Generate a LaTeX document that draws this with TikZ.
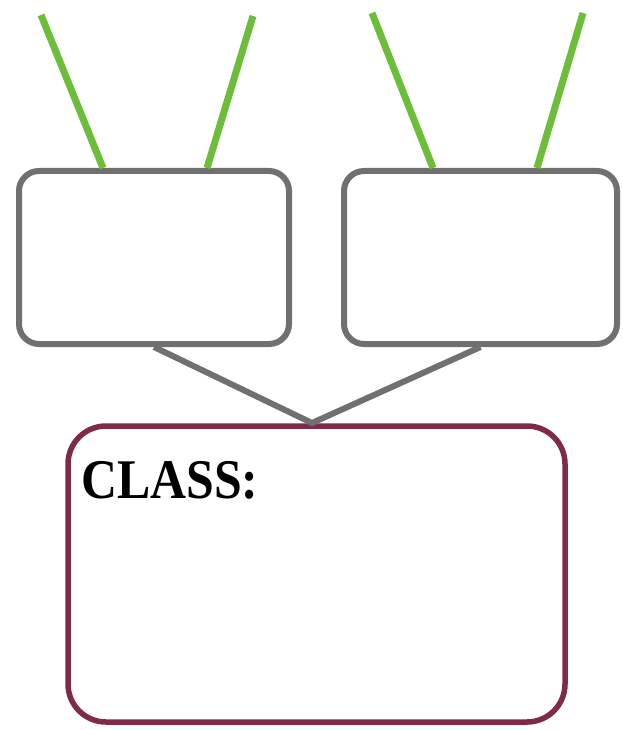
\documentclass[tikz,border=0pt]{standalone}
\usepackage{graphicx}
\usepackage{fontspec}
\setmainfont{Liberation Serif}
\usetikzlibrary{positioning,shapes,arrows}

\definecolor{boxgray}{RGB}{112,112,112}
\definecolor{leafgreen}{RGB}{108,190,58}
\definecolor{classred}{RGB}{128,42,72}

\begin{document}
\begin{tikzpicture}[x=1pt,y=-1pt]
          %% ARBRE DE CLASSE
          \useasboundingbox (0,0) rectangle (623,730);

          \tikzstyle{panel}=[draw=boxgray,line width=6pt,rounded corners=20pt,minimum width=270pt,minimum height=173pt,inner sep=0pt]
          \tikzstyle{classbox}=[draw=classred,line width=5.5pt,rounded corners=38pt,minimum width=497pt,minimum height=296pt,inner sep=0pt]
          \tikzstyle{antenna}=[draw=leafgreen,line width=7pt]
          \tikzstyle{link}=[draw=boxgray,line width=6pt,line join=miter]

          % les deux boites du haut
          \node[panel] (B1) at (154,257.5) {};
          \node[panel,minimum width=273pt] (B2) at (480.5,257.5) {};

          % la boite de la classe
          \node[classbox] (C) at (316.5,574) {};
          \node[anchor=base west,font=\bfseries\fontsize{56}{60}\selectfont,inner sep=0pt] (lab) at (81,498) {\scalebox{0.89}[1]{CLASS:}};

          % extremites des traits verts
          \coordinate (t1) at (41,15);
          \coordinate (t2) at (253,16);
          \coordinate (t3) at (372,13);
          \coordinate (t4) at (583,13);
          \coordinate (b1) at (103,168);
          \coordinate (b2) at (207,168);
          \coordinate (b3) at (433,168);
          \coordinate (b4) at (537,168);
          \coordinate (tip) at (312,423);

          % traits verts
          \foreach \i in {1,...,4}
            \draw[antenna] (t\i) -- (b\i);

          % liaisons vers la classe
          \draw[link] (B1.south) -- (tip) -- (B2.south);
\end{tikzpicture}
\end{document}
